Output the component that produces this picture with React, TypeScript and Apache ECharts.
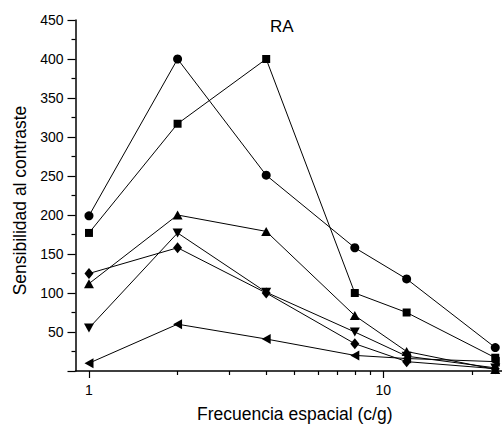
import React, { useEffect, useRef } from 'react';
import * as echarts from 'echarts';

const freqs = [1, 2, 4, 8, 12, 24];
const circleVals = [199, 400, 251, 158, 118, 30];
const squareVals = [177, 317, 400, 100, 75, 17];
const triUpVals = [112, 200, 179, 71, 25, 2];
const triDownVals = [55, 177, 101, 50, 19, 4];
const diamondVals = [125, 158, 100, 35, 12, 3];
const triLeftVals = [10, 60, 41, 20, 16, 12];

const majorXTicks = [1, 10];
const minorXTicks = [2, 3, 4, 5, 6, 7, 8, 9, 20];
const yMin = 0;
const yMax = 450;
const yStep = 50;

export default function App() {
  const ref = useRef<HTMLDivElement>(null);
  useEffect(() => {
    document.body.style.margin = '0';
    const chart = echarts.init(ref.current!, null, { renderer: 'svg' });
    const font = 'Liberation Sans';
    const mk = (name: string, vals: number[], symbol: string, size: any, rotate = 0) => ({
      type: 'line',
      name,
      data: freqs.map((f, i) => [f, vals[i]]),
      symbol,
      symbolSize: size,
      symbolRotate: rotate,
      showSymbol: true,
      showAllSymbol: true,
      lineStyle: { color: '#000', width: 1 },
      itemStyle: { color: '#000', borderWidth: 0 },
      clip: false,
      xAxisIndex: 0,
      yAxisIndex: 0,
      z: 3,
    });
    chart.setOption({
      animation: false,
      backgroundColor: '#fff',
      title: {
        text: 'RA',
        left: 270,
        top: 18,
        padding: 0,
        textStyle: { fontFamily: font, fontSize: 17, fontWeight: 'normal', color: '#000' },
      },
      grid: { left: 75.5, right: 0, top: 20, bottom: 54.5 },
      xAxis: [
        {
          type: 'log',
          logBase: 10,
          min: 0.9,
          max: 25.3,
          position: 'bottom',
          axisLine: { show: true, onZero: false, lineStyle: { color: '#000', width: 1.5 } },
          axisTick: { show: true, customValues: majorXTicks, length: 7, lineStyle: { color: '#000', width: 1.2 } },
          axisLabel: { customValues: majorXTicks, margin: 12, fontSize: 14, color: '#000', fontFamily: font },
          splitLine: { show: false },
          minorTick: { show: false },
          name: 'Frecuencia espacial (c/g)',
          nameLocation: 'middle',
          nameGap: 34,
          nameTextStyle: { fontSize: 17.5, color: '#000', fontFamily: font, padding: [0, 0, 0, 12] },
        },
        {
          type: 'log',
          logBase: 10,
          min: 0.9,
          max: 25.3,
          position: 'bottom',
          axisLine: { show: false, onZero: false },
          axisTick: { show: true, customValues: minorXTicks, length: 4, lineStyle: { color: '#000', width: 1.2 } },
          axisLabel: { show: false },
          splitLine: { show: false },
          minorTick: { show: false },
        },
      ],
      yAxis: {
        type: 'value',
        min: yMin,
        max: yMax,
        interval: yStep,
        axisLine: { show: true, onZero: false, lineStyle: { color: '#000', width: 1.5 } },
        axisTick: { show: true, length: 8, lineStyle: { color: '#000', width: 1.2 } },
        minorTick: { show: true, splitNumber: 2, length: 4, lineStyle: { color: '#000', width: 1.2 } },
        axisLabel: { showMinLabel: false, fontSize: 14, margin: 12, color: '#000', fontFamily: font },
        splitLine: { show: false },
        name: 'Sensibilidad al contraste',
        nameLocation: 'middle',
        nameGap: 37,
        nameTextStyle: { fontSize: 17.5, color: '#000', fontFamily: font, padding: [0, 10, 0, 0] },
      },
      series: [
        mk('circle', circleVals, 'circle', 9),
        mk('square', squareVals, 'rect', 8),
        mk('triUp', triUpVals, 'triangle', [10, 9]),
        mk('triDown', triDownVals, 'triangle', [10, 9], 180),
        mk('diamond', diamondVals, 'diamond', [9, 11]),
        mk('triLeft', triLeftVals, 'triangle', [10, 9], 90),
      ],
    });
    return () => chart.dispose();
  }, []);
  return <div ref={ref} style={{ position: 'fixed', left: 0, top: 0, width: 502, height: 428 }} />;
}
